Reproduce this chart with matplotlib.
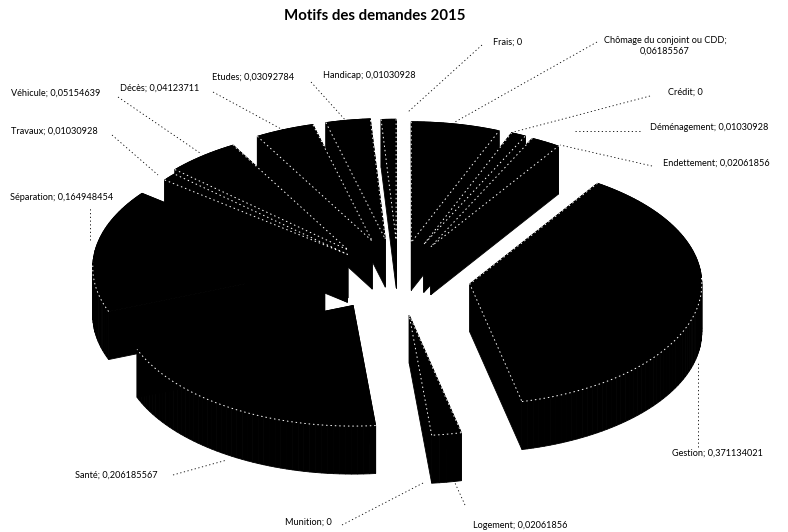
import numpy as np
import matplotlib
matplotlib.use('Agg')
from matplotlib import pyplot as plt

plt.rcParams['font.family'] = ['Lato', 'DejaVu Sans']

# clockwise from 12 o'clock
names = ['Chômage du conjoint ou CDD', 'Crédit', 'Déménagement', 'Endettement', 'Gestion',
         'Logement', 'Munition', 'Santé', 'Séparation', 'Travaux', 'Véhicule',
         'Décès', 'Etudes', 'Handicap', 'Frais']
values = [0.06185567, 0, 0.01030928, 0.02061856, 0.371134021,
          0.02061856, 0, 0.206185567, 0.164948454, 0.01030928, 0.05154639,
          0.04123711, 0.03092784, 0.01030928, 0]
explode = [58, 58, 58, 58, 76, 88, 80, 80, 71, 62, 62, 60, 60, 58, 58]

# small pixel nudges per slice, the original has a perspective this does not model
nudge_x = [5, 0, 5, 7, 0, 0, 0, 0, 0, 0, -8, 0, 0, 3, 0]
nudge_y = [2, 0, 2, 3, 7, 0, 0, 0, 3, 5, 5, 0, 0, 0, 0]

# text position of each label, and its leader line (None = no line)
label_x = [665, 668, 650, 663, 672, 473, 285, 75, 10, 11, 11, 120, 212, 323, 493]
label_y = [40, 92, 128, 163, 453, 525, 522, 475, 198, 131, 93, 88, 77, 75, 42]
leaders = [((597, 42), (455, 122)), ((650, 96), (510, 133)), ((640, 131), (573, 131)),
           ((652, 166), (560, 145)), ((698, 447), (698, 362)), ((465, 505), (455, 483)),
           ((342, 525), (425, 482)), ((173, 475), (227, 460)), ((90, 240), (90, 208)),
           ((112, 135), (158, 175)), ((118, 97), (200, 153)), ((213, 92), (283, 130)),
           ((311, 82), (347, 122)), None, ((482, 45), (408, 112))]

title = 'Motifs des demandes 2015'

cx, cy = 395, 270
R = 232
squash = 0.52
depth = 48
no_radial = ['Santé', 'Séparation']


def project(u, v, z=0):
    return cx + u, cy + squash * v + z


fig = plt.figure(figsize=(7.88, 5.32), dpi=100)
ax = fig.add_axes([0, 0, 1, 1])
ax.set_xlim(0, 788)
ax.set_ylim(532, 0)
ax.axis('off')

fracs = np.array(values) / sum(values)
edges = np.concatenate([[0], np.cumsum(fracs)]) * 2 * np.pi

slices = []
for i in range(len(values)):
    if values[i] == 0:
        continue
    mid = (edges[i] + edges[i + 1]) / 2
    slices.append((-np.cos(mid), i))
slices.sort()

dots = (0, (1.5, 3))
for front, i in slices:
    mid = (edges[i] + edges[i + 1]) / 2
    ou, ov = explode[i] * np.sin(mid), -explode[i] * np.cos(mid)
    t = np.linspace(edges[i], edges[i + 1], max(4, int((edges[i + 1] - edges[i]) * 40)))
    us = np.concatenate([[ou], ou + R * np.sin(t)])
    vs = np.concatenate([[ov], ov - R * np.cos(t)])
    tx, ty = project(us, vs)
    tx, ty = tx + nudge_x[i], ty + nudge_y[i]
    bx, by = tx, ty + depth
    n = len(us)
    for a in range(n):
        b = (a + 1) % n
        ax.fill([tx[a], tx[b], bx[b], bx[a]], [ty[a], ty[b], by[b], by[a]],
                color='black', lw=0.6, zorder=2)
    ax.fill(tx, ty, color='black', lw=0.6, zorder=2)
    # white dots where the top meets a visible side
    near = np.concatenate([[False], np.cos(t) < 0.05])
    if near.any():
        ax.plot(tx[near], ty[near], color='white', lw=0.7, ls=dots, zorder=2)
    if names[i] not in no_radial:
        ax.plot([tx[1], tx[0], tx[-1]], [ty[1], ty[0], ty[-1]], color='white', lw=0.7,
                ls=dots, zorder=2)

for i in range(len(names)):
    txt = str(values[i]).replace('.', ',')
    if i == 0:
        ax.text(label_x[i], label_y[i] + 6, names[i] + ';\n' + txt, fontsize=6.6, ha='center',
                va='center', linespacing=1.25, color='black')
    else:
        ax.text(label_x[i], label_y[i], names[i] + '; ' + txt, fontsize=6.6, ha='left',
                va='center', color='black')
    if leaders[i] is not None:
        p, q = leaders[i]
        ax.plot([p[0], q[0]], [p[1], q[1]], color='black', lw=0.6, ls=(0, (1.5, 3)), zorder=3)

ax.text(375, 16, title, fontsize=10.8, fontweight='bold', ha='center', va='center')

fig.savefig('out.png', dpi=100)
